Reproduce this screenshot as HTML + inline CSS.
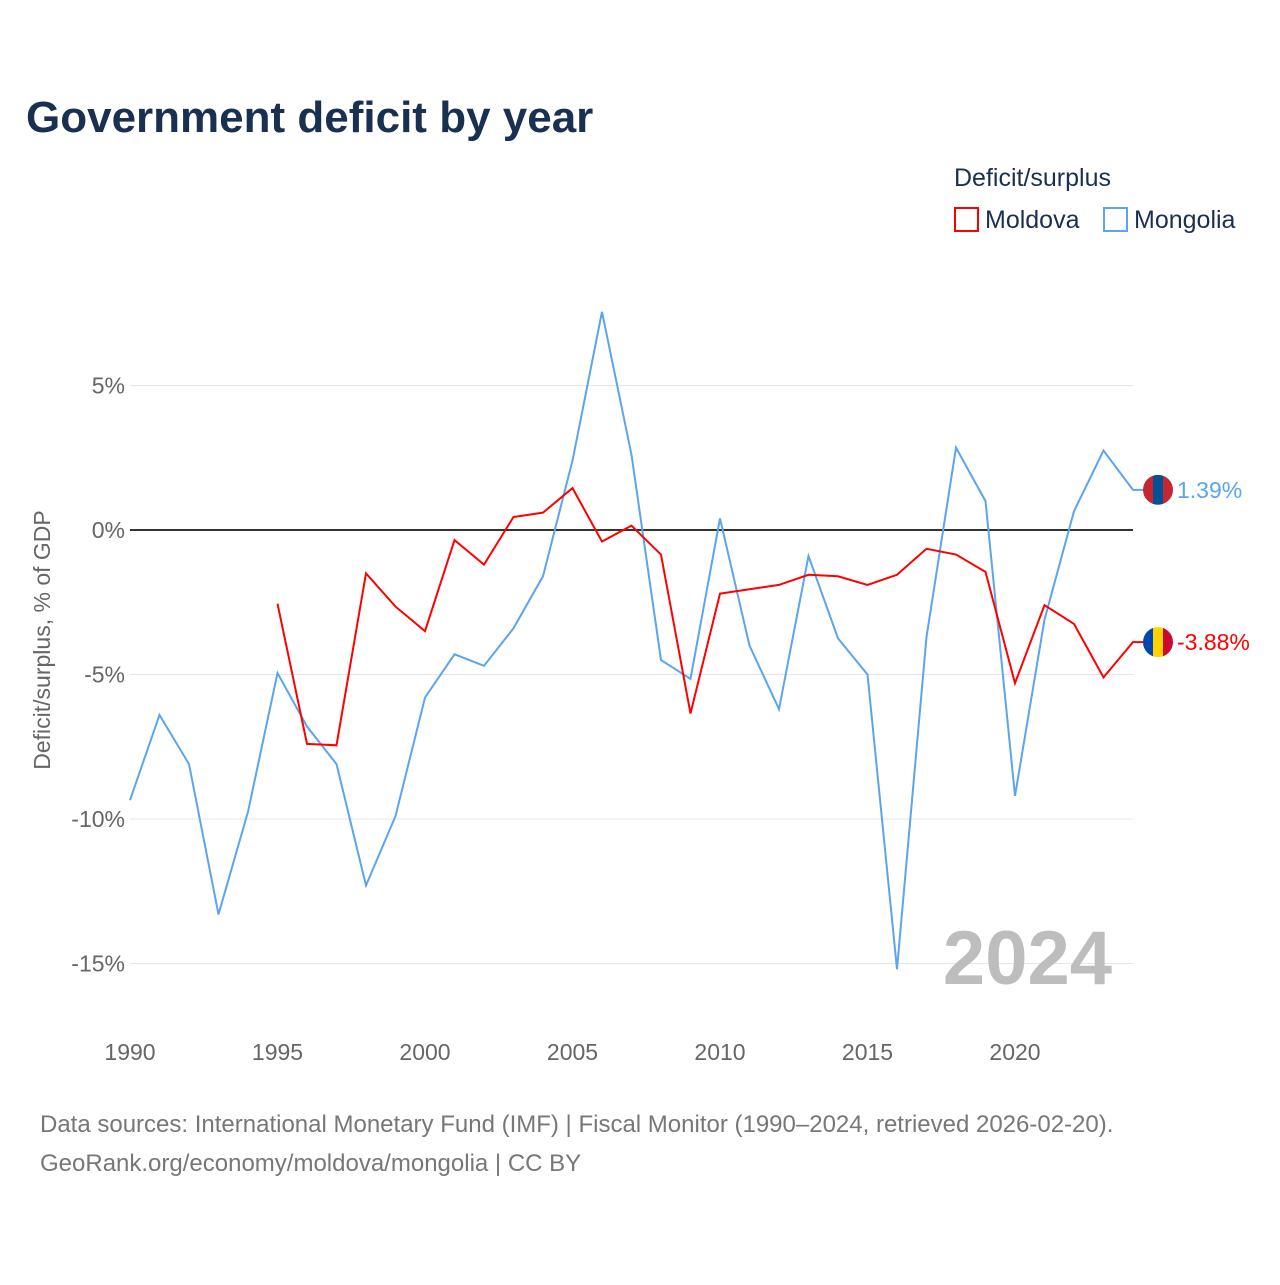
<!DOCTYPE html>
<html><head><meta charset="utf-8"><style>
body{margin:0;background:#fff;font-family:"Liberation Sans",sans-serif}
svg text{font-family:"Liberation Sans",sans-serif}
</style></head><body>
<svg width="1280" height="1280" xmlns="http://www.w3.org/2000/svg" id="chart">
<defs id="defs"></defs>
<text x="26" y="132" font-size="44" font-weight="bold" fill="#1a3050">Government deficit by year</text>
<g>
<text x="954" y="186" font-size="25" fill="#1a3050">Deficit/surplus</text>
<g><rect x="955" y="208" width="23" height="23" fill="none" stroke="#ff0000" stroke-width="2"/><text x="985" y="228" font-size="25" fill="#1a3050">Moldova</text></g>
<g><rect x="1104" y="208" width="23" height="23" fill="none" stroke="#5aa5ec" stroke-width="2"/><text x="1134" y="228" font-size="25" fill="#1a3050">Mongolia</text></g>
</g>
<g id="grid"></g><g id="yt"></g><g id="xt"></g>
<text transform="translate(50,640) rotate(-90)" text-anchor="middle" font-size="23" fill="#666">Deficit/surplus, % of GDP</text>
<text x="1112" y="984" text-anchor="end" font-size="76" font-weight="bold" fill="#bdbdbd">2024</text>
<g id="series"></g>
<text x="40" y="1132" font-size="24" fill="#777">Data sources: International Monetary Fund (IMF) | Fiscal Monitor (1990–2024, retrieved 2026-02-20).</text>
<text x="40" y="1171" font-size="24" fill="#777">GeoRank.org/economy/moldova/mongolia | CC BY</text>
</svg>
<script>
const years=[1990,1991,1992,1993,1994,1995,1996,1997,1998,1999,2000,2001,2002,2003,2004,2005,2006,2007,2008,2009,2010,2011,2012,2013,2014,2015,2016,2017,2018,2019,2020,2021,2022,2023,2024];
const mongolia=[-9.35,-6.4,-8.1,-13.3,-9.75,-4.95,-6.8,-8.1,-12.3,-9.9,-5.8,-4.3,-4.7,-3.4,-1.6,2.4,7.55,2.6,-4.5,-5.15,0.4,-4.0,-6.2,-0.9,-3.75,-5.0,-15.2,-3.7,2.85,1.0,-9.2,-3.1,0.65,2.75,1.39];
const moldova=[null,null,null,null,null,-2.55,-7.4,-7.45,-1.5,-2.65,-3.5,-0.35,-1.2,0.45,0.6,1.45,-0.4,0.15,-0.85,-6.35,-2.2,-2.05,-1.9,-1.55,-1.6,-1.9,-1.55,-0.65,-0.85,-1.45,-5.3,-2.6,-3.25,-5.1,-3.88];
const yTicks=[5,0,-5,-10,-15];
const xTicks=[1990,1995,2000,2005,2010,2015,2020];
const NS='http://www.w3.org/2000/svg';
const X=v=>130+(v-1990)*29.5;
const Y=v=>530-v*28.9;
function mk(t,a,p){const e=document.createElementNS(NS,t);for(const k in a)e.setAttribute(k,a[k]);p.appendChild(e);return e;}
const grid=document.getElementById('grid'),yt=document.getElementById('yt'),xt=document.getElementById('xt'),ser=document.getElementById('series'),defs=document.getElementById('defs');
yTicks.forEach(v=>{
 const l=mk('line',{x1:130,x2:1133,y1:Y(v),y2:Y(v),stroke:v===0?'#333':'#e6e6e6','stroke-width':v===0?2:1},grid);
 
 
 const t=mk('text',{x:125,y:Y(v)+8,'text-anchor':'end','font-size':23,fill:'#666'},yt);
 t.textContent=v+'%';
 
 
});
xTicks.forEach(v=>{
 const t=mk('text',{x:X(v),y:1060,'text-anchor':'middle','font-size':23,fill:'#666'},xt);
 t.textContent=v;
 
 
});
function line(data,color,name){
 let d='';data.forEach((v,i)=>{if(v===null)return;d+=(d?'L':'M')+X(years[i])+','+Y(v);});
 const last=data[data.length-1];
 d+='L1143,'+Y(last);
 const p=mk('path',{d:d,fill:'none',stroke:color,'stroke-width':2},ser);
 
 
}
line(mongolia,'#5aa5ec','line-mongolia');
line(moldova,'#ff0000','line-moldova');
function endLabel(v,color,name,flag,id){
 const y=Y(v);
 const cp=mk('clipPath',{id:id},defs);
 mk('circle',{cx:1158,cy:y,r:15},cp);
 const g=mk('g',{},ser);
 
 
 const f=mk('g',{'clip-path':'url(#'+id+')'},g);
 mk('rect',{x:1143,y:y-15,width:10,height:30,fill:flag[0]},f);
 mk('rect',{x:1153,y:y-15,width:10,height:30,fill:flag[1]},f);
 mk('rect',{x:1163,y:y-15,width:10,height:30,fill:flag[2]},f);
 const t=mk('text',{x:1177,y:y+8,'font-size':23,fill:color},g);
 t.textContent=v.toFixed(2)+'%';
}
endLabel(mongolia[34],'#5aa5ec','end-label-mongolia',['#c4272f','#015197','#c4272f'],'clipMn');
endLabel(moldova[34],'#ff0000','end-label-moldova',['#0046ae','#ffd200','#cc092f'],'clipMd');
</script>
</body></html>
